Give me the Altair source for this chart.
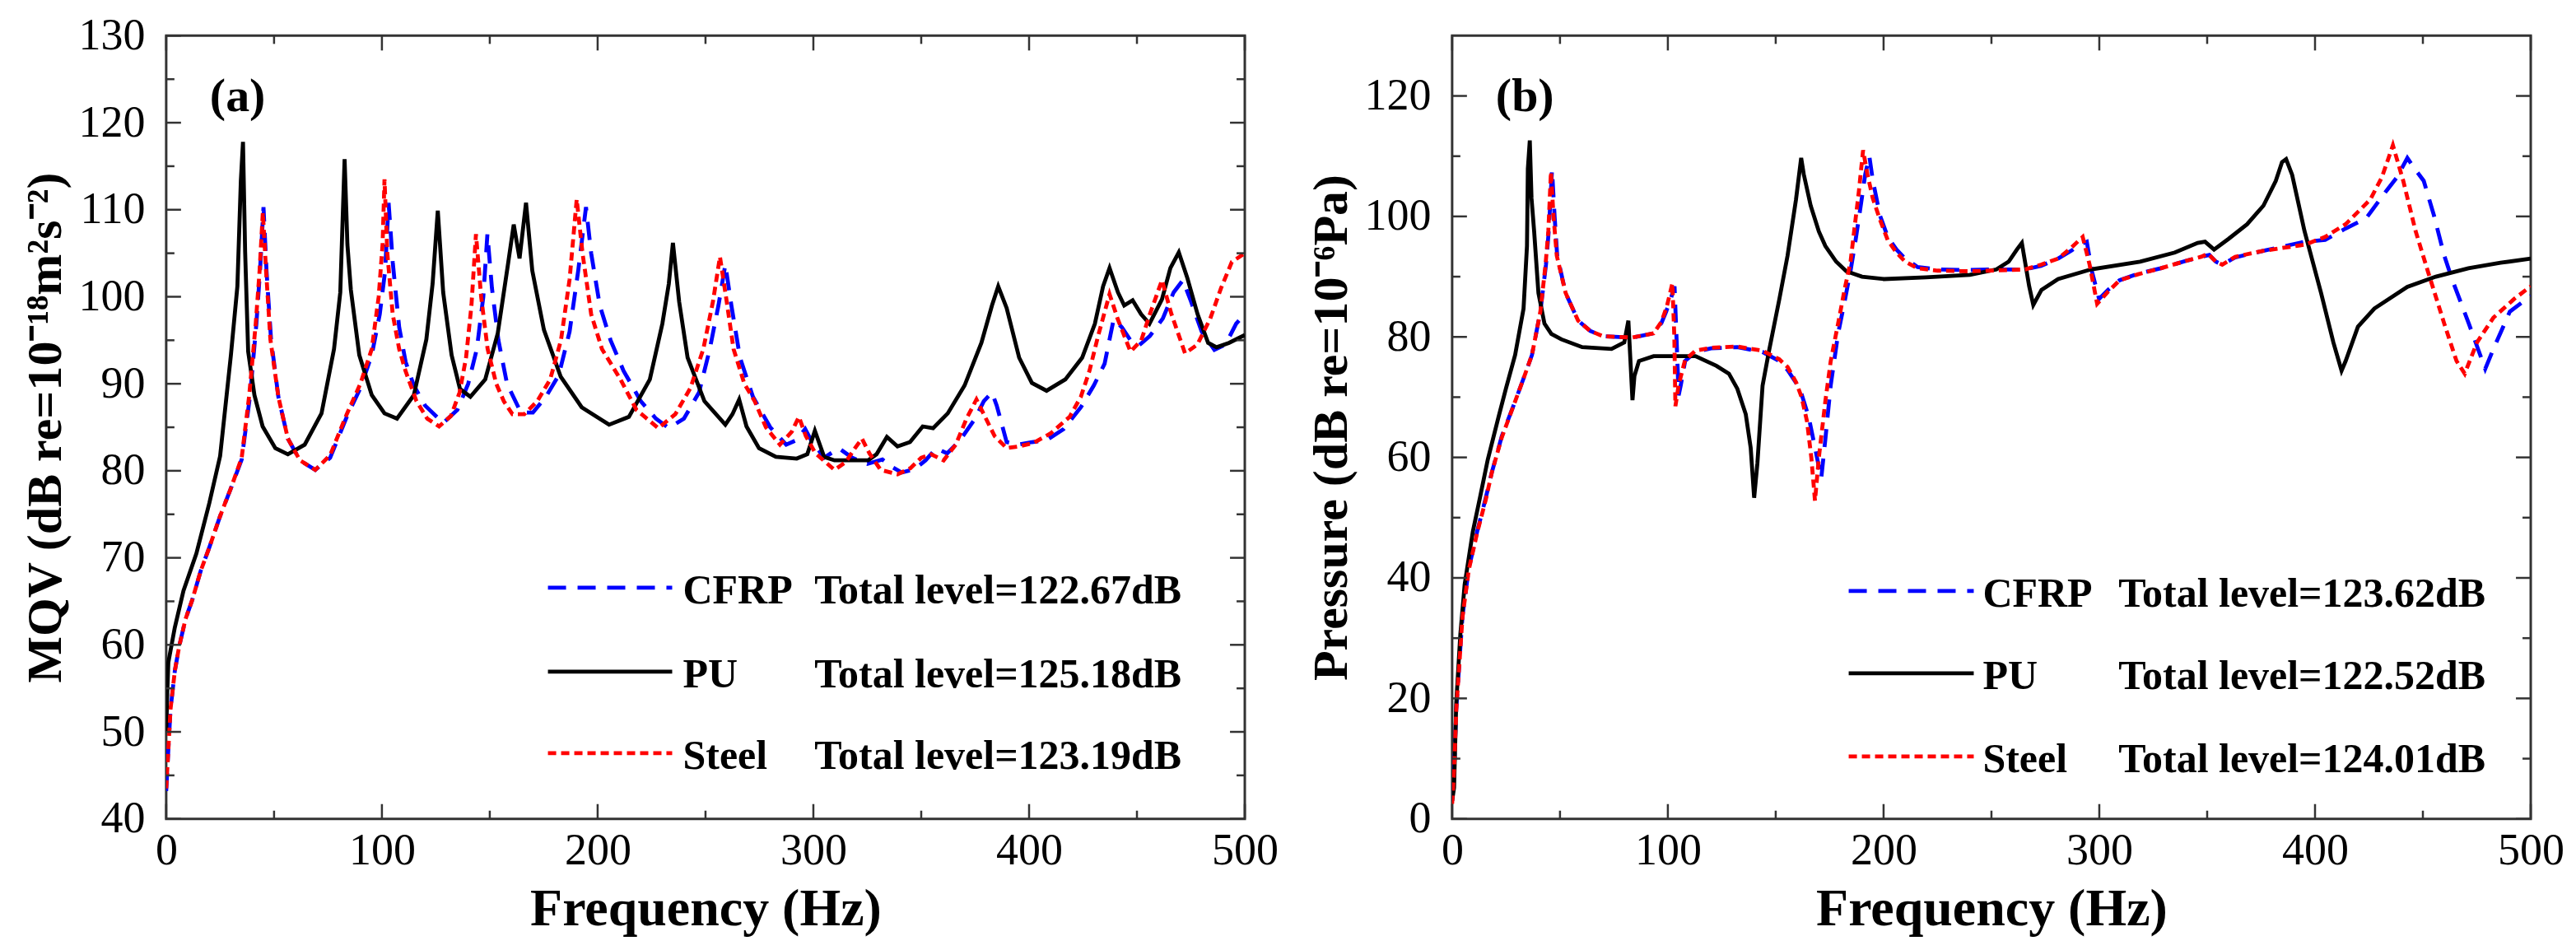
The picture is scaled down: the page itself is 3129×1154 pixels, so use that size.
import altair as alt
import pandas as pd

# axis ticks
FREQ_TICKS = [0, 100, 200, 300, 400, 500]
FREQ_MINOR = [50, 150, 250, 350, 450]
MQV_TICKS = [40, 50, 60, 70, 80, 90, 100, 110, 120, 130]
MQV_MINOR = [45, 55, 65, 75, 85, 95, 105, 115, 125]
P_TICKS = [0, 20, 40, 60, 80, 100, 120]
P_MINOR = [10, 30, 50, 70, 90, 110]

MATERIALS = ["CFRP", "PU", "Steel"]
MQV_TOTALS = ["122.67", "125.18", "123.19"]
P_TOTALS = ["123.62", "122.52", "124.01"]

# (frequency Hz, level dB)
MQV_CFRP = [(0, 43.2), (1, 48), (2, 52.6), (4, 57), (6, 59.8), (9, 63), (12, 65.1), (16, 68.5), (20, 71.2),
            (25, 74.8), (30, 78), (35, 81.3), (38.9, 88.7), (41.8, 96.9), (43.5, 103), (45.1, 110.3), (46.5, 103),
            (48.6, 95.1), (52, 88.5), (56.4, 83.7), (62, 81.2), (69.1, 80.1), (76, 81.5), (83.7, 86.2), (90, 89.5),
            (95.3, 93.3), (99, 98), (101.5, 103), (103.1, 110.8), (105, 104), (108, 96.5), (111, 92.5), (114.8, 89.8),
            (120, 87.5), (128.4, 85.5), (135, 87), (140, 90), (144, 94), (147, 100), (148.9, 107.2), (151, 101),
            (154, 95), (158, 90), (164.4, 86.7), (170, 86.7), (176, 88.5), (182, 91), (187, 96), (191, 103),
            (194.6, 110.3), (197, 105), (201, 99), (206, 95), (212, 91.5), (220, 88), (227, 86), (233, 84.9),
            (240, 86), (247, 89), (252, 94), (256, 99), (259.2, 103.7), (262, 99), (266, 93), (272, 88.5), (280, 85),
            (287.4, 83), (292, 83.5), (296.2, 84.8), (299, 83.5), (305, 81.5), (311.8, 82.6), (318, 81.5),
            (325, 80.8), (332, 81.3), (336, 80.5), (341, 79.8), (347, 80.2), (352, 81.2), (357, 82.6), (362, 82),
            (368, 83.5), (375, 86), (379, 88), (382.8, 89.0), (385, 87.5), (389.6, 83.3), (395, 83), (401.3, 83.3),
            (408, 83.5), (416, 84.8), (424, 87.3), (430, 89.8), (435, 92.3), (439.2, 97.4), (443, 96.5), (447, 95),
            (450.9, 94.4), (456, 95.5), (462, 97.5), (467, 100.5), (471.3, 101.9), (475, 99.5), (480, 96),
            (485.9, 93.9), (491, 94.5), (496, 96.9), (500, 98)]
MQV_PU = [(0, 50.0), (0.5, 54.5), (1, 58), (4, 62), (8, 66.2), (14, 70.5), (20, 76.3), (25, 81.7), (30, 93.3),
          (33, 101.2), (34.6, 113.3), (35.6, 117.8), (36.6, 105.1), (38, 93.7), (40.9, 88.7), (44.7, 85.1),
          (50.6, 82.6), (56.4, 81.9), (64.2, 83.0), (72, 86.6), (77.8, 94.0), (80.7, 100.5), (82.7, 115.8),
          (84, 106), (85.6, 100.8), (89.5, 93.3), (95.3, 88.7), (101.2, 86.6), (107, 86.0), (114.8, 88.7),
          (120.6, 95.1), (123.5, 101.5), (125.9, 109.9), (128.4, 100.5), (132.3, 93.3), (136.2, 89.4), (141, 88.5),
          (147.9, 90.5), (153.7, 95.8), (158.6, 104.0), (161.1, 108.3), (163.8, 104.4), (166.8, 110.8),
          (169.7, 103.0), (175.1, 96.2), (182.9, 90.8), (192.6, 87.3), (205.3, 85.3), (214.5, 86.2), (224.2, 90.5),
          (230, 96.9), (233, 101.5), (234.9, 106.2), (237.8, 99.4), (241.7, 93.0), (249.5, 88.0), (259.2, 85.3),
          (262.5, 86.5), (265.6, 88.2), (269, 85.1), (274.8, 82.6), (282.6, 81.6), (292.3, 81.4), (297.2, 81.9),
          (300.7, 84.6), (305, 81.6), (309.8, 81.2), (325.4, 81.2), (329.3, 81.9), (334.1, 83.9), (339, 82.8),
          (344.8, 83.3), (350.7, 85.1), (355.5, 84.9), (362.3, 86.6), (370.1, 89.8), (377.9, 94.7), (382.8, 99.0),
          (385.7, 101.2), (389.6, 98.7), (395.4, 93.0), (401.3, 90.1), (408.1, 89.2), (416.8, 90.5), (424.6, 93.0),
          (430.5, 96.9), (434.3, 101.2), (437.3, 103.3), (441.2, 100.5), (444.1, 99.0), (448, 99.6), (451.9, 98.0),
          (455.8, 96.9), (461.6, 99.7), (465.5, 103.3), (469.4, 105.1), (473.3, 102.2), (478.1, 98.0), (483, 94.7),
          (486.9, 94.2), (492.7, 94.7), (500, 95.6)]
MQV_STEEL = [(0, 43.5), (1, 48), (2, 52.6), (4, 57), (6, 59.8), (9, 63), (12, 65.1), (16, 68.5), (20, 71.2),
             (25, 74.8), (30, 78), (35, 81.5), (38.5, 88.7), (41.5, 96.9), (43.3, 103), (44.8, 109.7), (46.3, 103),
             (48.3, 95.1), (52, 88.5), (56.4, 83.7), (62, 81.2), (69.1, 80.1), (76, 81.8), (83.7, 86.5), (90, 90),
             (95.3, 94), (98.5, 100), (100.3, 106), (101.2, 113.5), (102.5, 105), (105, 98), (108, 94), (110.9, 91.5),
             (116, 88), (121, 86), (126.5, 85.1), (132, 86.3), (136, 89), (139, 93), (141.5, 99), (143.6, 107.2),
             (146, 100), (149, 94), (153, 90), (156.5, 88), (160.5, 86.5), (166, 86.5), (172, 88), (178, 90.5),
             (183, 95), (187, 102), (190.3, 111.2), (193, 105), (197, 98), (202, 94), (210.6, 90.5), (218, 87),
             (228.1, 84.9), (236, 86.5), (243, 89.5), (249, 94), (253.5, 99.5), (256.7, 104.6), (259.5, 100),
             (263, 94), (268, 90), (272.8, 88), (278, 85), (284.5, 83), (290, 84.5), (293.3, 86.2), (296.5, 84),
             (301, 82), (309.8, 80.1), (315, 81), (319, 82.5), (322.5, 83.7), (326, 82), (331.2, 80.1), (339, 79.6),
             (345, 80.3), (350, 81.5), (354.6, 81.9), (360.4, 81.2), (366, 83), (371, 86), (375.6, 88.2), (380, 86),
             (384, 84), (389.6, 82.6), (395, 82.8), (402, 83.2), (410, 84.3), (418.8, 86.2), (424, 88.5),
             (428, 91.5), (432, 95.5), (437.3, 100.3), (441, 97.5), (447, 93.7), (452, 95), (456, 98),
             (461.6, 101.9), (466, 98), (472.3, 93.5), (478, 94.5), (484, 97.5), (489, 101), (494, 104), (500, 105)]

# (frequency Hz, level dB)
P_CFRP = [(0, 3), (0.9, 8), (1.9, 18.2), (4.8, 33.7), (7.7, 41.5), (11.6, 47.7), (15.6, 53.3), (18.4, 57.5),
          (23, 63.5), (29.2, 69.3), (33, 73), (37, 77), (40.9, 84.2), (43.5, 92), (44.8, 97.6), (46.3, 107.7),
          (47.5, 100), (48.7, 93.5), (52.6, 87.3), (58.4, 82.7), (64, 81), (70, 80.1), (83.6, 79.9), (93.4, 80.6),
          (97, 82.3), (99.2, 84.2), (101.5, 86.5), (103.1, 88.4), (104, 80), (105, 70.3), (106, 72), (108, 76),
          (112.8, 77.5), (120, 78.1), (132.2, 78.3), (143.9, 77.5), (151.6, 76.0), (155.5, 74.5), (159.4, 72.4),
          (162, 70.5), (165.3, 66.7), (168, 62), (171.1, 56.5), (173, 63), (175.5, 72), (178.9, 80.5), (182, 86),
          (184.7, 91), (187, 96), (189.5, 102), (191.5, 107), (193.4, 110), (195, 106), (198.3, 100.2),
          (202, 96.5), (206, 94.5), (210, 93), (215.8, 91.6), (225, 91.2), (239.1, 91.1), (248.5, 91.2),
          (265.6, 91.2), (273, 91.8), (280.9, 93.0), (287, 94.3), (291, 95.3), (294.2, 95.8), (296.5, 91),
          (299.9, 86.3), (304, 87.8), (309.4, 89.4), (318, 90.5), (328.5, 91.4), (340, 92.6), (347.2, 93.3),
          (351, 93.6), (354, 92.5), (357, 92), (363, 93.2), (376.1, 94.3), (395.2, 95.8), (404.7, 96.1),
          (414.2, 98.0), (423.7, 99.7), (433.2, 104.3), (438, 106.5), (442.8, 109.7), (446, 108), (450.4, 105.9),
          (455.1, 100.2), (459.9, 93.5), (463.7, 89.4), (471.3, 82.2), (478.9, 74.7), (482.7, 78), (490.3, 84.2),
          (500, 86.8)]
P_PU = [(0, 3), (0.9, 5.2), (1.9, 19.2), (3.8, 30.6), (5.8, 38.9), (9.6, 47.7), (13, 53.5), (16.5, 59.6),
        (21.5, 66.7), (25, 71.5), (29.2, 77), (33.1, 84.7), (34.7, 95.1), (35.1, 107.9), (36.0, 112.6),
        (36.8, 103), (38, 97.6), (40, 87.3), (42.8, 82.2), (46, 80.5), (50.6, 79.6), (60.3, 78.3), (73.9, 78.0),
        (79.8, 79.1), (81.7, 82.7), (83.6, 69.5), (84.5, 73.5), (86.6, 76.0), (93.4, 76.8), (112.8, 76.8),
        (122.5, 75.2), (128.3, 73.9), (132.2, 71.4), (136.1, 67.2), (138.4, 61.6), (140, 53.3), (141.5, 59),
        (143.9, 71.9), (146.8, 77.5), (151.7, 86.3), (155.5, 93.5), (159.4, 102.8), (161.8, 109.7), (163, 107),
        (166.2, 101.8), (170, 97.5), (173, 95.1), (178, 92.5), (182.7, 90.9), (190, 90), (200.2, 89.6),
        (219.7, 89.9), (240, 90.3), (252.3, 91.2), (258, 92.5), (261.8, 94.5), (264.1, 95.6), (267.5, 88.4),
        (269.4, 85.3), (273.2, 87.8), (280.9, 89.6), (296.1, 91.2), (318.9, 92.5), (335, 94), (345.6, 95.6),
        (349, 95.8), (353.2, 94.5), (360, 96.3), (368.5, 98.7), (376.1, 101.8), (381.8, 105.9), (384.7, 109),
        (386.6, 109.5), (389.4, 106.9), (395.1, 97.6), (402.8, 87.3), (408.5, 79.1), (412.3, 74.4), (414.2, 76),
        (419.9, 81.7), (427.5, 84.7), (442.8, 88.3), (456, 90), (471.1, 91.4), (486, 92.3), (500, 93.0)]
P_STEEL = [(0, 2.5), (0.9, 8), (1.9, 18), (4.8, 33.5), (7.7, 41.3), (11.6, 47.5), (15.6, 53), (18.4, 57.5),
           (23, 63.3), (29.2, 69.3), (33, 73), (37, 77), (40.9, 84.2), (43.3, 92), (44.6, 97.6), (45.8, 107.4),
           (47, 100), (48.5, 93.5), (52.6, 87.3), (58.4, 82.7), (64, 81), (70, 80.1), (83.6, 79.9), (93.4, 80.6),
           (97, 82.5), (99.5, 85), (102.1, 88.9), (103, 80), (103.5, 68.5), (105, 72), (108, 76.2), (112.8, 77.7),
           (120, 78.2), (132.2, 78.4), (143.9, 77.7), (151.6, 76.3), (155.5, 75), (159.4, 72.5), (162, 70),
           (164.5, 66), (166.5, 60), (168.2, 52.8), (170, 60), (173, 69.3), (175.5, 76), (178.9, 82.2), (182, 88),
           (184.7, 92.5), (186.5, 98), (188.5, 104), (190.5, 111), (192.5, 107), (195, 103), (198.3, 99.5),
           (202, 96), (206, 94), (210, 92.5), (215.8, 91.4), (225, 91.0), (239.1, 90.9), (248.5, 91.0),
           (265.6, 91.2), (273, 92), (280.9, 93.0), (287, 94.8), (292.3, 96.6), (295.5, 92), (299, 85.5),
           (304, 87.5), (309.4, 89.4), (318, 90.4), (328.5, 91.4), (340, 92.6), (347.2, 93.3), (350.4, 93.8),
           (354, 92.5), (357, 92.0), (363, 93.3), (376.1, 94.3), (395.2, 95.3), (404.7, 96.6), (414.2, 98.7),
           (425.6, 102.8), (431, 106.5), (436.1, 111.8), (440.9, 105.9), (446.6, 97.6), (452.3, 90.9),
           (459.9, 82.2), (465.6, 76), (469.4, 73.9), (475.1, 79.1), (482.7, 83.2), (492.3, 86.3), (500, 88.4)]

STYLE = {
    "CFRP": ("#0000ff", [22, 14]),
    "PU": ("#000000", None),
    "Steel": ("#ff0000", [10, 6]),
}
FONT = "Liberation Serif"
FRAME = "#333333"
W, H = 1311, 952
MAJOR, MINOR = 18, 10


def panel(curves, y_dom, y_ticks, y_minor, y_title, tag, totals, lx, ly):
    X = alt.X("f:Q", scale=alt.Scale(domain=[0, 500], nice=False),
              axis=alt.Axis(values=FREQ_TICKS, title="Frequency (Hz)", labelFlush=False,
                            labelPadding=12, titlePadding=12, titleFontSize=64))
    Y = alt.Y("v:Q", scale=alt.Scale(domain=y_dom, nice=False),
              axis=alt.Axis(values=y_ticks, title=y_title, labelPadding=26,
                            titlePadding=8, titleFontSize=60))

    layers = []
    for name in MATERIALS:
        color, dash = STYLE[name]
        kw = dict(color=color, strokeWidth=4.8, clip=True)
        if dash:
            kw["strokeDash"] = dash
        df = pd.DataFrame(curves[name], columns=["f", "v"])
        layers.append(alt.Chart(df).mark_line(**kw).encode(x=X, y=Y))

    # inward ticks on all four sides
    for vals, size in [(FREQ_TICKS, MAJOR), (FREQ_MINOR, MINOR)]:
        d = pd.DataFrame({"f": vals})
        tick = alt.Chart(d).mark_rule(color=FRAME, strokeWidth=2.5)
        layers.append(tick.encode(x=X, y=alt.value(H), y2=alt.value(H - size)))
        layers.append(tick.encode(x=X, y=alt.value(0), y2=alt.value(size)))
    for vals, size in [(y_ticks, MAJOR), (y_minor, MINOR)]:
        d = pd.DataFrame({"v": vals})
        tick = alt.Chart(d).mark_rule(color=FRAME, strokeWidth=2.5)
        layers.append(tick.encode(y=Y, x=alt.value(0), x2=alt.value(size)))
        layers.append(tick.encode(y=Y, x=alt.value(W), x2=alt.value(W - size)))

    one = pd.DataFrame({"k": [0]})
    layers.append(alt.Chart(one).mark_text(
        text=tag, font=FONT, fontSize=58, fontWeight="bold", align="left", baseline="alphabetic", color="black"
    ).encode(x=alt.value(53), y=alt.value(92)))

    # legend
    for i, name in enumerate(MATERIALS):
        color, dash = STYLE[name]
        kw = dict(color=color, strokeWidth=4.8)
        if dash:
            kw["strokeDash"] = dash
        y = ly[i]
        layers.append(alt.Chart(one).mark_rule(**kw).encode(
            x=alt.value(lx[0]), x2=alt.value(lx[1]), y=alt.value(y)))
        txt = dict(font=FONT, fontSize=50, fontWeight="bold", align="left", baseline="alphabetic", color="black")
        layers.append(alt.Chart(one).mark_text(text=name, **txt).encode(
            x=alt.value(lx[2]), y=alt.value(y + 19)))
        layers.append(alt.Chart(one).mark_text(text="Total level=" + totals[i] + "dB", **txt).encode(
            x=alt.value(lx[3]), y=alt.value(y + 19)))

    return alt.layer(*layers).properties(width=W, height=H)


left = panel({"CFRP": MQV_CFRP, "PU": MQV_PU, "Steel": MQV_STEEL}, [40, 130], MQV_TICKS, MQV_MINOR,
             "MQV (dB re=10\u207b\u00b9\u2078m\u00b2s\u207b\u00b2)", "(a)", MQV_TOTALS,
             [464, 615, 628, 788], [671, 773, 872])
right = panel({"CFRP": P_CFRP, "PU": P_PU, "Steel": P_STEEL}, [0, 130], P_TICKS, P_MINOR,
              "Pressure (dB re=10\u207b\u2076Pa)", "(b)", P_TOTALS,
              [482, 634, 645, 810], [675, 775, 876])

chart = alt.hconcat(left, right, spacing=252, bounds="flush").properties(
    padding={"left": 16, "top": 6, "right": 5, "bottom": 0}
).configure_view(
    stroke=FRAME, strokeWidth=3
).configure_axis(
    labelFont=FONT, labelFontSize=54, labelColor="black",
    titleFont=FONT, titleFontWeight="bold", titleColor="black",
    ticks=False, tickSize=0, domain=False, grid=False
)

chart.save("out.html", embed_options={"renderer": "svg", "actions": False})
